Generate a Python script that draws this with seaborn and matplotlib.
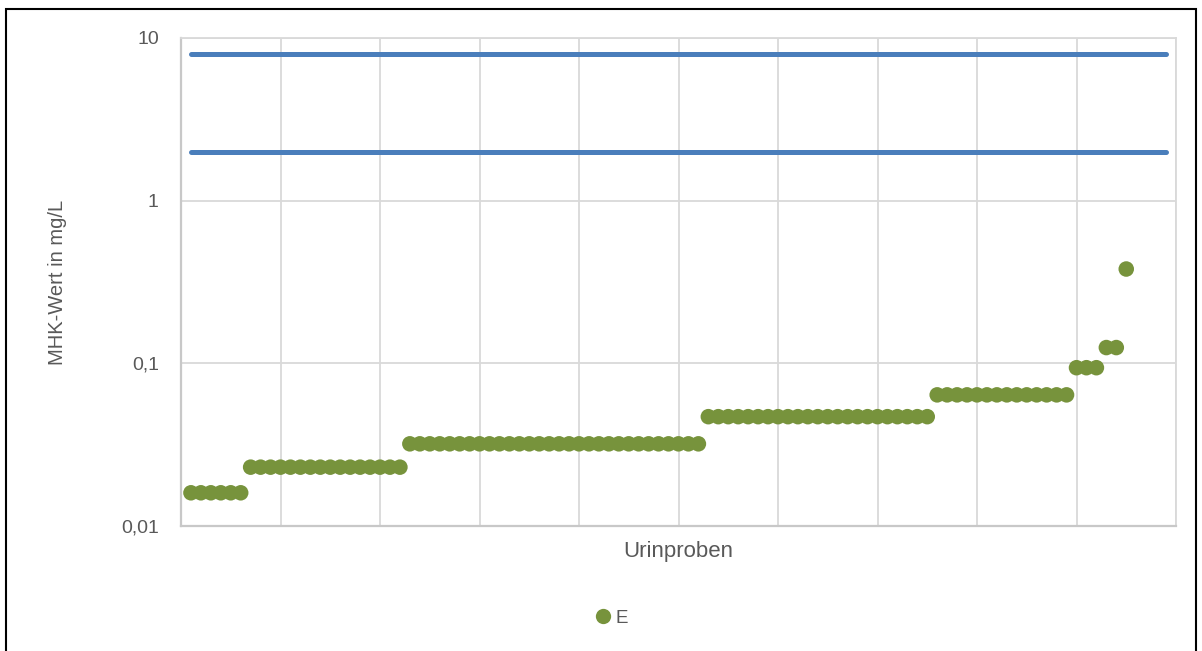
import numpy as np
import pandas as pd
import matplotlib
matplotlib.use("Agg")
import matplotlib.pyplot as plt
import seaborn as sns
from matplotlib.ticker import FixedLocator, FuncFormatter, MultipleLocator, NullLocator
from matplotlib.lines import Line2D
from matplotlib.patches import Rectangle

# Etest MIC levels (mg/L) and number of urine samples at each level
mic_levels = [0.016, 0.023, 0.032, 0.047, 0.064, 0.094, 0.125, 0.38]
sample_counts = [6, 16, 30, 23, 14, 3, 2, 1]

# Breakpoint lines (mg/L) and the sample range they span
breakpoints = [8, 2]
breakpoint_span = [1, 99]

y_ticks = [0.01, 0.1, 1, 10]
y_tick_labels = ["0,01", "0,1", "1", "10"]

mic_values = np.repeat(mic_levels, sample_counts)
samples = pd.DataFrame({"Probe": np.arange(1, len(mic_values) + 1), "MHK": mic_values})
lines = pd.DataFrame({
    "Probe": np.tile(breakpoint_span, len(breakpoints)),
    "MHK": np.repeat(breakpoints, len(breakpoint_span)),
    "Grenze": np.repeat([str(b) for b in breakpoints], len(breakpoint_span)),
})

sns.set_theme(style="white")
plt.rcParams["font.family"] = ["Liberation Sans", "DejaVu Sans"]

green = "#77933C"
blue = "#4A7EBB"
grid_c = "#D9D9D9"
text_c = "#595959"

fig = plt.figure(figsize=(12.02, 6.51), dpi=100)
ax = fig.add_axes([181 / 1202, 1 - 526 / 651, (1176 - 181) / 1202, (526 - 38) / 651])

sns.lineplot(data=lines, x="Probe", y="MHK", units="Grenze", estimator=None,
             color=blue, linewidth=3.6, ax=ax, legend=False,
             solid_capstyle="round", zorder=3)
sns.scatterplot(data=samples, x="Probe", y="MHK", color=green, s=125,
                edgecolor="none", linewidth=0, ax=ax, legend=False, zorder=4)

ax.set_yscale("log")
ax.set_ylim(0.01, 10)
ax.set_xlim(0, 100)
ax.yaxis.set_major_locator(FixedLocator(y_ticks))
ax.yaxis.set_minor_locator(NullLocator())
ax.yaxis.set_major_formatter(FuncFormatter(lambda v, p: dict(zip(y_ticks, y_tick_labels)).get(v, "")))
ax.xaxis.set_major_locator(MultipleLocator(10))
ax.set_xticklabels([])
ax.tick_params(axis="x", length=0)
ax.tick_params(axis="y", length=0, labelsize=14, labelcolor=text_c, pad=16)

ax.grid(True, which="major", color=grid_c, linewidth=1.3)
ax.set_axisbelow(True)
for side in ["top", "right"]:
    ax.spines[side].set_color(grid_c)
    ax.spines[side].set_linewidth(1.3)
for side in ["left", "bottom"]:
    ax.spines[side].set_color("#C8C8C8")
    ax.spines[side].set_linewidth(1.6)

ax.set_xlabel("Urinproben", fontsize=16, color=text_c, labelpad=7)
ax.set_ylabel("MHK-Wert in mg/L", fontsize=14.5, color=text_c, labelpad=39)

handle = Line2D([], [], marker="o", linestyle="none", color=green,
                markersize=11, markeredgewidth=0)
fig.legend([handle], ["E"], loc="center", bbox_to_anchor=(611 / 1202, 1 - 618 / 651),
           frameon=False, fontsize=13.5, handletextpad=0.15, labelcolor=text_c,
           handlelength=1.0)

# Outer chart frame
fig.patches.append(Rectangle((6 / 1202, -0.05), (1196 - 6) / 1202, 1.05 - 9 / 651,
                             transform=fig.transFigure, fill=False,
                             edgecolor="black", linewidth=1.5))

fig.savefig("out.png", dpi=100)
